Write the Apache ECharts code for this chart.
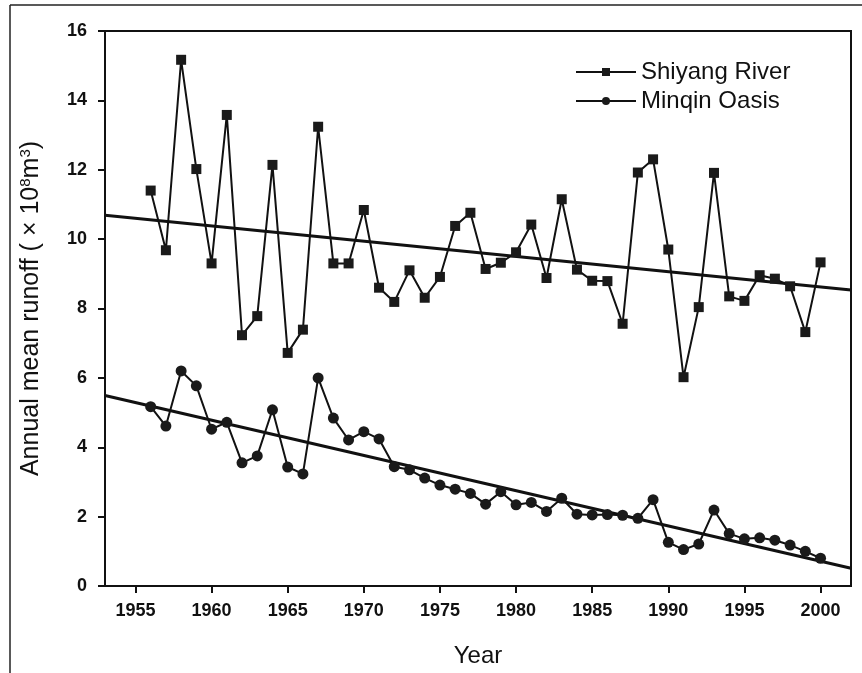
<!DOCTYPE html>
<html><head><meta charset="utf-8">
<script src="https://cdn.jsdelivr.net/npm/echarts@6/dist/echarts.min.js"></script>
<style>html,body{margin:0;padding:0;background:#fff}#c{width:862px;height:673px}</style>
</head><body><div id="c"></div>
<script>
const years = [1956,1957,1958,1959,1960,1961,1962,1963,1964,1965,1966,1967,1968,1969,1970,1971,1972,1973,1974,1975,1976,1977,1978,1979,1980,1981,1982,1983,1984,1985,1986,1987,1988,1989,1990,1991,1992,1993,1994,1995,1996,1997,1998,1999,2000];
const shiyang = [11.40,9.68,15.17,12.02,9.30,13.58,7.23,7.78,12.14,6.72,7.39,13.24,9.30,9.30,10.84,8.60,8.19,9.10,8.31,8.91,10.38,10.76,9.14,9.32,9.62,10.42,8.88,11.15,9.12,8.80,8.79,7.56,11.92,12.30,9.70,6.02,8.04,11.91,8.35,8.22,8.96,8.86,8.64,7.32,9.33];
const minqin = [5.17,4.61,6.20,5.77,4.52,4.72,3.55,3.75,5.08,3.43,3.23,6.00,4.84,4.21,4.45,4.24,3.44,3.35,3.11,2.91,2.79,2.67,2.36,2.72,2.34,2.41,2.15,2.53,2.07,2.05,2.06,2.04,1.95,2.49,1.26,1.05,1.21,2.19,1.51,1.36,1.39,1.32,1.18,1.00,0.80];
const trendYears = [1953,2002];
const shiyangTrend = [10.69,8.53];
const minqinTrend = [5.49,0.51];
const xTicks = [1955,1960,1965,1970,1975,1980,1985,1990,1995,2000];
const seriesNames = ['Shiyang River','Minqin Oasis'];

const pair = (xs, ys) => xs.map((x,i)=>[x,ys[i]]);
const FONT = 'Liberation Sans, Arial, sans-serif';
const chart = echarts.init(document.getElementById('c'));
chart.setOption({
  animation:false,
  backgroundColor:'#fff',
  grid:{left:105,top:31,right:11,bottom:87,show:true,borderColor:'#111',borderWidth:2},
  legend:{
    data:seriesNames, orient:'vertical', left:570, top:55, itemGap:5,
    itemWidth:60, itemHeight:10,
    textStyle:{fontFamily:FONT,fontSize:24,color:'#111'}
  },
  xAxis:{
    type:'value', min:1953, max:2002,
    name:'Year', nameLocation:'middle', nameGap:58,
    nameTextStyle:{fontFamily:FONT,fontSize:24,color:'#111'},
    axisLine:{lineStyle:{color:'#111',width:2}},
    axisTick:{show:true,inside:false,length:7,lineStyle:{color:'#111',width:2},customValues:xTicks},
    axisLabel:{customValues:xTicks,formatter:v=>String(v),color:'#111',fontWeight:'bold',fontSize:18,margin:16,fontFamily:FONT},
    splitLine:{show:false}
  },
  yAxis:{
    type:'value', min:0, max:16, interval:2,
    name:'Annual mean runoff ( \u00D7 10{sup|8}m{sup|3})', nameLocation:'middle', nameGap:60, nameRotate:90,
    nameTextStyle:{fontFamily:FONT,fontSize:25,color:'#111',
      rich:{sup:{fontSize:15,verticalAlign:'top',padding:[0,0,12,0],fontFamily:FONT,color:'#111'}}},
    axisLine:{show:true,lineStyle:{color:'#111',width:2}},
    axisTick:{show:true,inside:false,length:7,lineStyle:{color:'#111',width:2}},
    axisLabel:{color:'#111',fontWeight:'bold',fontSize:18,margin:18,fontFamily:FONT},
    splitLine:{show:false}
  },
  series:[
    {name:seriesNames[0],type:'line',data:pair(years,shiyang),symbol:'rect',symbolSize:10,
      lineStyle:{color:'#111',width:2},itemStyle:{color:'#1a1a1a'},z:3},
    {name:seriesNames[1],type:'line',data:pair(years,minqin),symbol:'circle',symbolSize:11,
      lineStyle:{color:'#111',width:2},itemStyle:{color:'#1a1a1a'},z:3},
    {name:'trend1',type:'line',data:pair(trendYears,shiyangTrend),symbol:'none',lineStyle:{color:'#111',width:3},z:2},
    {name:'trend2',type:'line',data:pair(trendYears,minqinTrend),symbol:'none',lineStyle:{color:'#111',width:3},z:2}
  ],
  graphic:[
    {type:'line',shape:{x1:10,y1:5,x2:862,y2:5},style:{stroke:'#222',lineWidth:1.5}},
    {type:'line',shape:{x1:10,y1:5,x2:10,y2:673},style:{stroke:'#222',lineWidth:1.5}}
  ]
});
</script></body></html>
